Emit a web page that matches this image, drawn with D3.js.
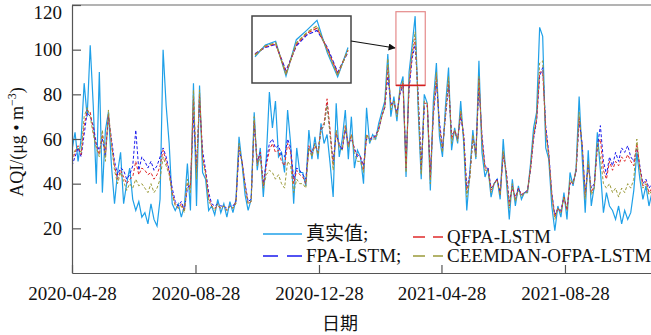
<!DOCTYPE html>
<html>
<head>
<meta charset="utf-8">
<script src="https://cdn.jsdelivr.net/npm/d3@7"></script>
<style>
  body { margin: 0; background: #fff; }
  svg text { font-family: "Liberation Serif", "DejaVu Serif", serif; fill: #111; }
  svg text.cjk { font-family: "Liberation Serif", "Noto Sans CJK SC", serif; }
</style>
</head>
<body>
<div id="chart"></div>
<script>
// one value every 3 days starting 2020-04-28
var startDate = "2020-04-28";
var stepDays = 3;

var actual = [55,63,50,60,85,70,102,75,40,90,
  36,64,72,48,31,45,54,31,40,47,
  33,28,32,25,27,22,31,24,21,33,
  100,75,58,31,28,31,25,30,49,28,
  85,30,84,45,42,28,30,26,33,27,
  31,25,32,27,33,61,49,35,28,33,
  72,46,56,34,52,81,65,77,52,54,
  45,73,58,31,56,45,45,39,64,51,
  61,51,67,58,62,49,34,76,52,60,
  73,51,70,47,55,52,40,74,58,62,
  60,67,72,77,98,70,79,68,83,88,
  43,90,102,115,73,42,80,76,37,77,
  94,61,52,75,92,55,65,58,77,58,
  28,45,64,51,95,54,43,47,34,40,
  42,33,60,42,24,42,30,39,33,36,
  36,49,65,72,110,106,56,51,30,19,
  30,25,36,24,45,39,47,79,52,27,
  55,30,39,63,46,27,36,30,28,24,
  30,22,28,24,27,37,54,42,33,39,
  30,36];

var fpaLstm = [48,52,56,52,62,72,70,66,58,55,
  60,52,70,60,50,44,47,46,42,44,
  48,64,46,52,50,47,50,46,48,52,
  56,52,46,38,32,30,32,28,38,40,
  70,48,76,55,46,36,31,30,31,30,
  30,29,30,30,32,55,50,40,32,33,
  66,50,54,40,50,58,60,56,57,53,
  52,60,56,42,47,46,44,42,56,54,
  58,54,64,66,76,62,50,62,58,55,
  64,58,60,56,52,52,48,60,60,60,
  62,64,70,74,88,76,76,72,80,84,
  50,82,96,102,80,48,74,75,45,70,
  85,68,56,70,84,62,63,60,70,62,
  38,44,60,54,84,62,48,47,38,40,
  42,36,52,46,32,38,34,38,35,36,
  37,46,60,68,88,92,66,54,36,26,
  29,28,34,29,40,41,45,68,58,36,
  48,38,40,56,66,50,44,52,48,54,
  50,56,54,57,52,50,56,48,40,42,
  38,40];

var qfpaLstm = [50,54,57,53,66,73,72,64,57,53,
  62,54,71,58,48,42,46,43,40,42,
  43,50,44,47,46,44,45,42,44,48,
  55,50,45,36,31,29,31,28,40,38,
  78,45,80,52,45,34,30,29,30,29,
  30,28,30,29,32,57,50,39,31,32,
  68,49,54,39,48,55,58,54,55,50,
  48,58,54,40,46,44,43,40,57,53,
  57,54,65,67,78,64,48,63,57,56,
  66,57,62,55,53,52,46,62,60,61,
  61,65,70,75,92,75,77,71,81,85,
  47,84,98,105,78,46,76,76,42,72,
  88,66,55,71,86,60,64,60,72,61,
  36,43,61,53,87,60,47,47,37,40,
  42,35,54,45,30,39,33,38,35,36,
  37,47,61,69,90,90,64,53,35,25,
  29,27,34,28,41,40,46,70,57,34,
  49,36,39,57,60,46,42,50,46,50,
  48,52,50,53,50,48,58,47,39,41,
  36,38];

var ceemdanOfpaLstm = [52,55,56,54,70,74,70,62,56,52,
  64,50,73,57,46,40,45,41,37,40,
  38,42,39,40,38,36,40,36,38,42,
  52,48,44,35,30,29,30,27,42,36,
  82,42,82,50,44,32,30,28,31,29,
  30,28,30,29,31,58,49,38,31,32,
  70,48,52,38,44,46,45,42,44,40,
  38,50,48,36,42,40,40,38,56,52,
  58,53,64,66,75,62,46,64,56,55,
  66,56,62,54,50,50,45,62,59,60,
  60,64,70,74,96,73,77,70,82,86,
  45,86,99,108,76,44,77,76,40,73,
  90,64,54,72,88,58,64,59,73,60,
  34,42,62,52,88,58,46,46,36,40,
  41,35,55,44,29,40,32,37,34,36,
  36,47,62,70,94,95,62,52,34,24,
  29,27,34,28,42,40,46,72,56,33,
  50,35,38,58,52,40,38,40,36,38,
  34,38,36,40,38,42,60,46,38,40,
  35,37];

var seriesNames = ["真实值;", "FPA-LSTM;", "QFPA-LSTM", "CEEMDAN-OFPA-LSTM"];
var seriesColors = ["#1fa0e8", "#1a1aee", "#e02a2a", "#9b9b3a"];
var yTicks = [20, 40, 60, 80, 100, 120];
var xTickDates = ["2020-04-28", "2020-08-28", "2020-12-28", "2021-04-28", "2021-08-28"];
var zoomFrom = 107, zoomTo = 116; // points shown in the inset

function drawChart() {
    var width = 651, height = 335;
    var margin = {top: 5, right: 0, bottom: 62, left: 72};
    var parse = d3.timeParse("%Y-%m-%d");
    var t0 = parse(startDate);

    var svg = d3.select("#chart").append("svg")
        .attr("width", width)
        .attr("height", height);

    var x = d3.scaleTime()
        .domain([t0, parse("2021-11-21")])
        .range([margin.left, width - margin.right]);
    var y = d3.scaleLinear()
        .domain([0, 120])
        .range([height - margin.bottom, margin.top]);

    var all = [actual, fpaLstm, qfpaLstm, ceemdanOfpaLstm];
    var dateOf = function(i) { return d3.timeDay.offset(t0, i * stepDays); };

    svg.append("clipPath").attr("id", "clip")
        .append("rect")
        .attr("x", margin.left).attr("y", margin.top)
        .attr("width", width - margin.left).attr("height", height - margin.bottom - margin.top);

    // top frame line
    svg.append("line")
        .attr("x1", margin.left).attr("x2", width)
        .attr("y1", margin.top).attr("y2", margin.top)
        .attr("stroke", "#9a9a9a").attr("stroke-width", 1.6);

    var line = d3.line()
        .x(function(d, i) { return x(dateOf(i)); })
        .y(function(d) { return y(d); });

    var plot = svg.append("g").attr("clip-path", "url(#clip)");
    all.forEach(function(s, k) {
        plot.append("path")
            .datum(s)
            .attr("fill", "none")
            .attr("stroke", seriesColors[k])
            .attr("stroke-width", k == 0 ? 1.2 : 1)
            .attr("stroke-dasharray", k == 0 ? null : "3,2")
            .attr("d", line);
    });

    // axes, ticks pointing inwards
    var xAxis = d3.axisBottom(x)
        .tickValues(xTickDates.map(parse))
        .tickFormat(d3.timeFormat("%Y-%m-%d"))
        .tickSize(-8).tickSizeOuter(0).tickPadding(14);
    var gx = svg.append("g")
        .attr("transform", "translate(0," + (height - margin.bottom) + ")")
        .call(xAxis);

    var yAxis = d3.axisLeft(y)
        .tickValues(yTicks)
        .tickSize(-9).tickSizeOuter(0).tickPadding(10);
    var gy = svg.append("g")
        .attr("transform", "translate(" + margin.left + ",0)")
        .call(yAxis);

    [gx, gy].forEach(function(g) {
        g.attr("font-family", null);
        g.selectAll("path, line").attr("stroke", "#555").attr("stroke-width", 1.2);
        g.selectAll("text").attr("font-size", 19).attr("fill", "#111");
    });
    // top label sits a little lower than its tick
    gy.selectAll(".tick text").filter(function(d) { return d == 120; }).attr("dy", "0.72em");

    svg.append("text")
        .attr("class", "cjk")
        .attr("x", 340).attr("y", 330)
        .attr("text-anchor", "middle")
        .attr("font-size", 18)
        .text("日期");

    var ylab = svg.append("text")
        .attr("transform", "translate(23,142) rotate(-90)")
        .attr("text-anchor", "middle")
        .attr("font-size", 18);
    ylab.append("tspan").text("AQI/(μg • m");
    ylab.append("tspan").attr("font-size", 12).attr("dy", -7).text("−3");
    ylab.append("tspan").attr("dy", 7).text(")");

    // red box around the peak
    var bx0 = x(dateOf(zoomFrom)) - 1, bx1 = x(dateOf(zoomTo)) + 1;
    var by0 = y(117), by1 = y(84);
    svg.append("rect")
        .attr("x", bx0).attr("y", by0)
        .attr("width", bx1 - bx0).attr("height", by1 - by0)
        .attr("fill", "none").attr("stroke", "#e58a8a").attr("stroke-width", 1.2);
    svg.append("line")
        .attr("x1", bx0).attr("x2", bx1).attr("y1", by1).attr("y2", by1)
        .attr("stroke", "#d42020").attr("stroke-width", 1.6);

    // inset
    var inset = {x: 252, y: 16, w: 99, h: 67};
    svg.append("rect")
        .attr("x", inset.x).attr("y", inset.y)
        .attr("width", inset.w).attr("height", inset.h)
        .attr("fill", "#fff").attr("stroke", "#444").attr("stroke-width", 1.5);

    var ix = d3.scaleLinear().domain([zoomFrom, zoomTo]).range([inset.x + 3, inset.x + inset.w - 3]);
    var iy = d3.scaleLinear().domain([38, 118]).range([inset.y + inset.h - 3, inset.y + 2]);
    var iline = d3.line()
        .x(function(d) { return ix(d[0]); })
        .y(function(d) { return iy(d[1]); });
    all.forEach(function(s, k) {
        var pts = d3.range(zoomFrom, zoomTo + 1).map(function(i) { return [i, s[i]]; });
        svg.append("path")
            .datum(pts)
            .attr("fill", "none")
            .attr("stroke", seriesColors[k])
            .attr("stroke-width", 1.2)
            .attr("stroke-dasharray", k == 0 ? null : "4,2")
            .attr("d", iline);
    });

    svg.append("defs").append("marker")
        .attr("id", "arrow")
        .attr("viewBox", "0 0 10 10")
        .attr("refX", 9).attr("refY", 5)
        .attr("markerWidth", 10).attr("markerHeight", 7)
        .attr("markerUnits", "userSpaceOnUse")
        .attr("orient", "auto")
        .append("path").attr("d", "M0,0L10,5L0,10z").attr("fill", "#111");
    svg.append("line")
        .attr("x1", inset.x + inset.w).attr("y1", 41)
        .attr("x2", bx0 - 1).attr("y2", 48)
        .attr("stroke", "#111").attr("stroke-width", 1.2)
        .attr("marker-end", "url(#arrow)");

    // legend
    var legendItems = [
        {k: 0, x: 263, len: 39, y: 234, dash: null},
        {k: 1, x: 263, len: 39, y: 256, dash: "15,9"},
        {k: 2, x: 413, len: 30, y: 237, dash: "12,8"},
        {k: 3, x: 413, len: 30, y: 256, dash: "12,8"}
    ];
    var lg = svg.append("g").selectAll("g")
        .data(legendItems)
        .enter().append("g");
    lg.append("line")
        .attr("x1", function(d) { return d.x; })
        .attr("x2", function(d) { return d.x + d.len; })
        .attr("y1", function(d) { return d.y; })
        .attr("y2", function(d) { return d.y; })
        .attr("stroke", function(d) { return seriesColors[d.k]; })
        .attr("stroke-width", 1.5)
        .attr("stroke-dasharray", function(d) { return d.dash; });
    lg.append("text")
        .attr("class", "cjk")
        .attr("x", function(d) { return d.x + d.len + 4; })
        .attr("y", function(d) { return d.y + 6; })
        .attr("font-size", 19)
        .text(function(d) { return seriesNames[d.k]; });
}

drawChart();
</script>
</body>
</html>
